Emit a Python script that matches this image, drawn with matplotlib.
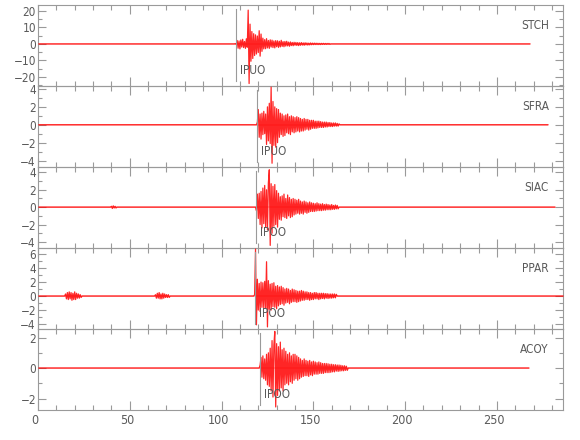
import matplotlib
matplotlib.use('Agg')
import matplotlib.pyplot as plt
import numpy as np
from matplotlib.ticker import MultipleLocator
from matplotlib.transforms import ScaledTranslation

# ---------------- data ----------------
stations = ['STCH', 'SFRA', 'SIAC', 'PPAR', 'ACOY']
pick_labels = ['IPUO', 'IPUO', 'IPOO', 'IPOO', 'IPOO']
pick_times = [107.8, 119.3, 118.7, 118.2, 120.8]
trace_start = [0.5, 0.5, 0.5, 0.5, 0.5]
trace_end = [268.0, 277.8, 281.6, 286.0, 267.4]
dt = 0.5  # sample spacing (s) of the digitised segments

stch_t0 = 107.5
stch_vals = [0.2, -0.3,
             2.1, -2.6, 1.8, -3.0, 2.4, -1.9, 2.8, -2.2, 1.5, -2.7, 3.1, -2.0,
             20.5, -24.0,
             12.0, -10.5, 7.5, -8.8, 6.2, -7.0, 5.5, -6.1, 4.8, -5.2, 8.0, -7.4, 6.0, -4.5,
             3.5, -3.0, 2.6, -2.9, 3.2, -2.4, 2.1, -2.7, 2.5, -1.9, 2.3, -2.2, 1.8, -2.4, 2.0,
             -1.7, 1.9, -2.1, 1.6, -1.8, 2.2, -1.5, 1.4, -1.7, 1.5, -1.3, 1.6, -1.2, 1.1, -1.4,
             1.2, -1.0, 0.9, -1.1, 1.0, -0.8, 0.9, -0.9, 0.8, -1.0, 0.7, -0.8, 0.8, -0.7, 0.6,
             -0.8, 0.7, -0.6, 0.6, -0.7, 0.5, -0.6, 0.6, -0.5,
             0.5, -0.45, 0.5, -0.4, 0.45, -0.4, 0.4, -0.4, 0.35, -0.4, 0.35, -0.3, 0.35, -0.3,
             0.3, -0.3, 0.3, -0.25, 0.3, -0.25]

sfra_t0 = 119.0
sfra_vals = [0.0, 0.3,
             1.7, -1.4, 1.2,
             -1.6, 1.3, -1.1, 1.5, -1.0, 1.2,
             -2.2, 2.0, -1.8, 2.4, -2.1,
             4.2, -4.3,
             2.6, -2.3, 2.0, -2.5, 1.8, -2.0, 1.7,
             -1.4, 1.3, -1.1, 1.2, -1.3, 1.0, -1.2, 1.1, -0.9, 1.2, -1.0, 0.9, -1.1, 1.0, -0.8, 0.9, -0.9, 0.8,
             -0.8, 0.9, -0.7, 0.8, -0.8, 0.7, -0.7, 0.6, -0.7, 0.7, -0.6, 0.6, -0.5, 0.6, -0.6, 0.5,
             -0.5, 0.5, -0.4, 0.5, -0.4, 0.4,
             -0.4, 0.4, -0.35, 0.4, -0.3, 0.35, -0.3, 0.3, -0.3, 0.3, -0.25, 0.3, -0.25, 0.25,
             -0.2, 0.25, -0.2, 0.2, -0.2, 0.2, -0.15, 0.2, -0.15, 0.15, -0.15, 0.1]

siac_t0 = 118.5
siac_vals = [0.0, -0.4,
             1.5, -1.3, 1.6,
             -2.0, 1.8, -2.4, 2.2, -1.9, 2.5, -2.3, 2.0, -2.6, 2.8,
             4.3, -4.4,
             2.7, -3.0, 2.4, -2.2, 2.6, -2.0, 1.9, -2.3,
             1.6, -1.4, 1.2, -1.5, 1.3, -1.1, 1.5, -1.2, 1.0, -1.3, 1.4, -1.0, 1.1, -1.2, 0.9, -1.1, 1.0, -0.9,
             0.9, -0.8, 0.8, -0.7, 0.9, -0.8, 0.7, -0.7, 0.6, -0.8, 0.7, -0.6, 0.6, -0.7, 0.5, -0.6, 0.6, -0.5,
             0.5, -0.5, 0.45, -0.5, 0.4, -0.45, 0.5, -0.4, 0.4, -0.4, 0.35, -0.4, 0.4, -0.35, 0.3,
             -0.35, 0.35, -0.3, 0.3, -0.3, 0.25, -0.3, 0.3, -0.25, 0.2, -0.25, 0.25, -0.2, 0.2, -0.2]
siac_b1_t0 = 40.0
siac_b1_vals = [0.1, -0.15, 0.15, -0.1, 0.1, -0.1]

ppar_t0 = 117.5
ppar_vals = [0.0, 0.2,
             6.7, -4.1,
             2.4, -2.0, 1.8, -2.2, 2.0, -1.6, 1.9, -1.8, 2.1, -1.7,
             4.9, -4.4,
             2.2, -1.9, 1.7, -2.0, 1.8, -1.5, 1.9, -1.6, 1.4, -1.8, 1.5,
             -1.4, 1.3, -1.2, 1.4, -1.1, 1.2, -1.3, 1.0,
             -1.0, 1.1, -0.9, 1.0, -1.1, 0.8, -0.9, 1.0, -0.8, 0.9, -0.8, 0.8, -0.9, 0.7, -0.8, 0.7,
             -0.7, 0.8, -0.6, 0.7,
             -0.6, 0.6, -0.5, 0.6, -0.5, 0.5, -0.6, 0.5, -0.5, 0.4, -0.5, 0.5, -0.4, 0.5, -0.4, 0.4,
             -0.5, 0.4, -0.4, 0.4, -0.35, 0.4, -0.4, 0.35, -0.3, 0.35, -0.35, 0.3, -0.3, 0.3, -0.3,
             0.3, -0.25, 0.3, -0.25, 0.25]
ppar_b1_t0 = 15.0
ppar_b1_vals = [0.3, -0.4, 0.5, -0.5, 0.6, -0.4, 0.5, -0.6, 0.4, -0.5, 0.6, -0.5, 0.4, -0.3,
                0.3, -0.3, 0.2, -0.2]
ppar_b2_t0 = 64.0
ppar_b2_vals = [0.2, -0.3, 0.4, -0.3, 0.5, -0.4, 0.3, -0.4, 0.4, -0.3, 0.3, -0.2, 0.2, -0.2, 0.2, -0.2]

acoy_t0 = 120.5
acoy_vals = [0.0, 0.2,
             0.7, -0.6, 0.8, -0.7, 0.6, -0.8, 0.9,
             -1.1, 1.0, -1.2, 1.3,
             -1.5, 1.8, -1.9, 1.5,
             2.4, -2.55,
             1.6, -1.8, 1.4, -1.5, 1.7, -1.3, 1.2, -1.5, 1.3, -1.1,
             1.1, -1.0, 0.9, -1.1, 1.0, -0.9, 0.8, -1.0, 0.9, -0.8, 0.9, -0.7, 0.8, -0.8, 0.7, -0.7,
             0.6, -0.6, 0.5, -0.55, 0.6, -0.5, 0.5, -0.5, 0.45, -0.55, 0.5, -0.45, 0.4, -0.5, 0.45,
             -0.4, 0.4, -0.4, 0.35, -0.4, 0.4, -0.35,
             0.35, -0.35, 0.3, -0.35, 0.3, -0.3, 0.3, -0.3, 0.28, -0.3, 0.25, -0.28, 0.25, -0.25,
             0.22, -0.25, 0.22, -0.2, 0.2, -0.22, 0.2, -0.2, 0.18, -0.18, 0.15, -0.18, 0.15,
             -0.15, 0.12, -0.15]

segments = [
    [(stch_t0, stch_vals)],
    [(sfra_t0, sfra_vals)],
    [(siac_b1_t0, siac_b1_vals), (siac_t0, siac_vals)],
    [(ppar_b1_t0, ppar_b1_vals), (ppar_b2_t0, ppar_b2_vals), (ppar_t0, ppar_vals)],
    [(acoy_t0, acoy_vals)],
]

ylims = [(-25.5, 23.6), (-4.72, 4.33), (-4.7, 4.62), (-4.7, 6.86), (-2.75, 2.56)]
ymajor = [10, 2, 2, 2, 2]
yminor = [5, 1, 1, 1, 1]
xlim = (0, 286)
xmajor, xminor = 50, 10

# ---------------- style ----------------
plt.rcParams['font.family'] = ['DejaVu Sans']
plt.rcParams['font.stretch'] = 'condensed'
TXT = '#5a5a5a'
AXC = '#9a9a9a'
RED = '#ff0000'
FS = 8.5

W, H, DPI = 580, 440, 100
fig = plt.figure(figsize=(W / DPI, H / DPI), dpi=DPI)
left, right = 38 / W, 563 / W
top_px, panel_px = 5, 81


def build(start, end, segs):
    """Quiet zero line with the digitised segments spliced in (returning to 0 between them)."""
    ts, ys = [start], [0.0]
    for s0, vals in segs:
        n = len(vals)
        ts.append(s0 - dt)
        ys.append(0.0)
        ts.extend(s0 + dt * np.arange(n))
        ys.extend(vals)
        ts.append(s0 + dt * n)
        ys.append(0.0)
    ts.append(end)
    ys.append(0.0)
    return np.array(ts), np.array(ys)


axes = []
for i, name in enumerate(stations):
    y0 = 1 - (top_px + (i + 1) * panel_px) / H
    ax = fig.add_axes([left, y0, right - left, panel_px / H])
    ax.set_facecolor('none')
    axes.append(ax)

    t, y = build(trace_start[i], trace_end[i], segments[i])
    ax.plot([trace_start[i], trace_end[i]], [0, 0], color=RED, lw=1.2, alpha=0.25,
            solid_capstyle='butt', zorder=2)
    ax.plot(t, y, color=RED, lw=0.9, alpha=0.85, clip_on=False, zorder=3)

    ax.axvline(pick_times[i], ymin=0.06, ymax=0.95, color=AXC, lw=0.8, zorder=4)
    tr = ax.get_xaxis_transform() + ScaledTranslation(4 / DPI, 0, fig.dpi_scale_trans)
    ax.text(pick_times[i], 0.19, pick_labels[i], transform=tr, ha='left', va='center',
            fontsize=FS, color=TXT)
    ax.text(0.973, 0.753, name, transform=ax.transAxes, ha='right', va='center',
            fontsize=FS, color=TXT)

    ax.set_xlim(*xlim)
    ax.set_ylim(*ylims[i])
    ax.xaxis.set_major_locator(MultipleLocator(xmajor))
    ax.xaxis.set_minor_locator(MultipleLocator(xminor))
    ax.yaxis.set_major_locator(MultipleLocator(ymajor[i]))
    ax.yaxis.set_minor_locator(MultipleLocator(yminor[i]))
    ax.tick_params(axis='both', which='both', direction='in', top=True, right=True,
                   color=AXC, width=0.8, labelcolor=TXT, labelsize=FS)
    ax.tick_params(axis='x', which='major', length=6.5)
    ax.tick_params(axis='x', which='minor', length=3.6)
    ax.tick_params(axis='y', which='major', length=5.8, pad=1.5)
    ax.tick_params(axis='y', which='minor', length=2.9)
    for s in ax.spines.values():
        s.set_color(AXC)
        s.set_linewidth(0.8)
    if i < len(stations) - 1:
        ax.tick_params(axis='x', labelbottom=False)
    else:
        ax.tick_params(axis='x', pad=3, labelsize=FS + 0.5)

fig.canvas.draw()
shift = ScaledTranslation(-3 / DPI, 0, fig.dpi_scale_trans)
for lab in axes[-1].get_xticklabels():
    lab.set_transform(lab.get_transform() + shift)

fig.savefig('out.png', dpi=DPI)
